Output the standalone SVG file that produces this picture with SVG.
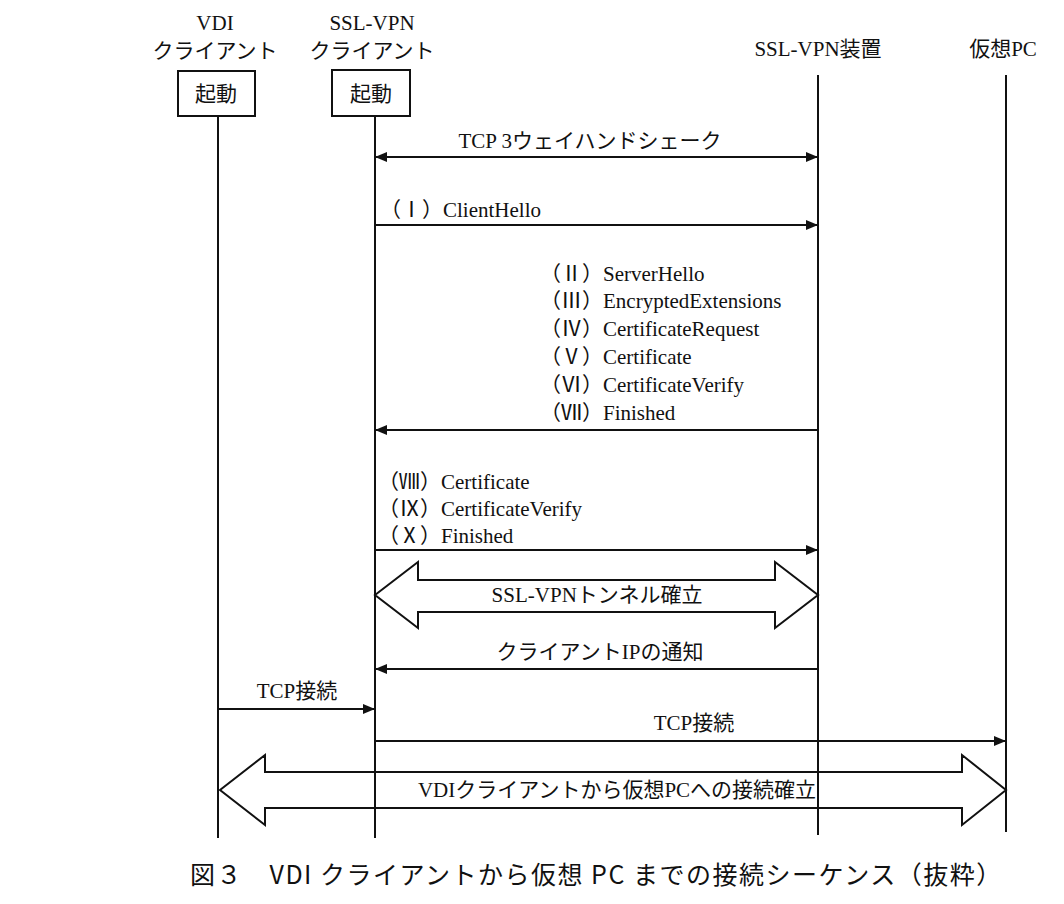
<svg xmlns="http://www.w3.org/2000/svg" width="1064" height="904" viewBox="0 0 1064 904">
<style>
text{font-family:"Liberation Serif","Noto Sans CJK JP",serif;font-size:21px;fill:#111}
.c{text-anchor:middle}
.cap{font-family:"Noto Sans CJK JP","Liberation Mono",sans-serif;font-size:25px;letter-spacing:1.5px}
line,rect,polygon{stroke:#111;stroke-width:2;fill:none}
.m{marker-end:url(#ah)}
.d{marker-start:url(#ah);marker-end:url(#ah)}
</style>
<defs><marker id="ah" markerWidth="12" markerHeight="10" refX="12" refY="5" orient="auto-start-reverse" markerUnits="userSpaceOnUse"><path d="M0,0 L12,5 L0,10 z" fill="#111"/></marker></defs>
<rect width="1064" height="904" fill="#fff" style="stroke:none"/>
<g id="vdi"><text class="c" x="215" y="30">VDI</text><text class="c" x="215" y="58">クライアント</text><rect x="178" y="71" width="77" height="45"/><text class="c" x="216" y="101">起動</text><line x1="218" y1="116" x2="218" y2="838"/></g>
<g id="sslclient"><text class="c" x="372" y="30">SSL-VPN</text><text class="c" x="372" y="58">クライアント</text><rect x="332" y="70" width="78" height="46"/><text class="c" x="371" y="101">起動</text><line x1="375" y1="116" x2="375" y2="838"/></g>
<g id="ssldev"><text class="c" x="818" y="56">SSL-VPN装置</text><line x1="818" y1="75" x2="818" y2="835"/></g>
<g id="pc"><text class="c" x="1003" y="56">仮想PC</text><line x1="1006" y1="75" x2="1006" y2="832"/></g>
<g id="connectors">
<line class="d" x1="375" y1="157" x2="818" y2="157"/>
<text class="c" x="590" y="148">TCP 3ウェイハンドシェーク</text>
<line class="m" x1="375" y1="225" x2="818" y2="225"/>
<text x="380" y="217">（Ⅰ）ClientHello</text>
<text x="540" y="281">（Ⅱ）ServerHello</text>
<text x="540" y="308">（Ⅲ）EncryptedExtensions</text>
<text x="540" y="336">（Ⅳ）CertificateRequest</text>
<text x="540" y="364">（Ⅴ）Certificate</text>
<text x="540" y="392">（Ⅵ）CertificateVerify</text>
<text x="540" y="420">（Ⅶ）Finished</text>
<line class="m" x1="818" y1="430" x2="375" y2="430"/>
<text x="378" y="489">（Ⅷ）Certificate</text>
<text x="378" y="516">（Ⅸ）CertificateVerify</text>
<text x="378" y="543">（Ⅹ）Finished</text>
<line class="m" x1="375" y1="550" x2="818" y2="550"/>
<polygon points="375,595 418,562 418,580 775,580 775,562 818,595 775,628 775,612 418,612 418,628"/>
<text class="c" x="597" y="602">SSL-VPNトンネル確立</text>
<text class="c" x="600" y="659">クライアントIPの通知</text>
<line class="m" x1="818" y1="669" x2="375" y2="669"/>
<text class="c" x="297" y="698">TCP接続</text>
<line class="m" x1="218" y1="709" x2="375" y2="709"/>
<text class="c" x="694" y="730">TCP接続</text>
<line class="m" x1="375" y1="741" x2="1006" y2="741"/>
<polygon points="220,790 265,755 265,772 962,772 962,755 1006,790 962,825 962,808 265,808 265,825"/>
<text class="c" x="617" y="797">VDIクライアントから仮想PCへの接続確立</text>
</g>
<text class="cap" x="190" y="884">図３　VDI クライアントから仮想 PC までの接続シーケンス（抜粋）</text>
</svg>
